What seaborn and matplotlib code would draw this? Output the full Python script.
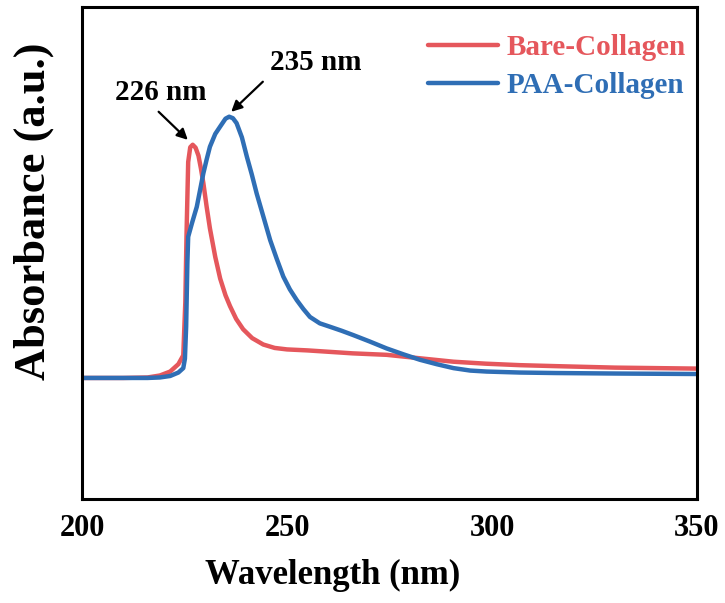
import numpy as np
import pandas as pd
import matplotlib
matplotlib.use("Agg")
import matplotlib.pyplot as plt
import seaborn as sns
from matplotlib.ticker import MultipleLocator

# Datos (absorbancia en unidades arbitrarias)
bare_wl = [200, 210, 216, 219, 221.5, 223.5, 224.7, 225.2, 225.5, 225.9, 226.4, 227.0,
           227.7, 228.4, 229.0, 229.6, 230.4, 231.2, 232.5, 233.7, 235.0, 236.1, 237.6,
           239.3, 241.5, 244.2, 247, 250, 255, 260.5, 266, 274.3, 282.4, 290.6, 298.5,
           306.8, 315.6, 330, 350]
bare_abs = [0.246, 0.246, 0.247, 0.251, 0.259, 0.274, 0.292, 0.40, 0.54, 0.685, 0.715, 0.720,
            0.714, 0.698, 0.672, 0.642, 0.594, 0.550, 0.492, 0.448, 0.414, 0.392, 0.366,
            0.345, 0.327, 0.314, 0.307, 0.304, 0.302, 0.299, 0.296, 0.293, 0.286, 0.279, 0.275,
            0.272, 0.270, 0.267, 0.265]

paa_wl = [200, 210, 216, 219, 221.5, 223.5, 224.7, 225.1, 225.4, 225.7, 225.9, 226.8, 228.0,
          229.6, 230.4, 231.2, 232.5, 233.7, 235.0, 235.9, 236.8, 237.7, 239.0, 240.2, 241.4,
          242.6, 244.2, 245.9, 247.5, 249.1, 250.7, 252.4, 254.0, 255.6, 258.0, 260.5, 263.3,
          266.2, 270.2, 274.3, 278.4, 282.4, 286.5, 290.6, 294.7, 298.7, 306.8, 315.5, 330, 350]
paa_abs = [0.246, 0.246, 0.246, 0.247, 0.250, 0.257, 0.266, 0.285, 0.35, 0.48, 0.533, 0.56, 0.594,
           0.662, 0.69, 0.716, 0.742, 0.757, 0.773, 0.777, 0.774, 0.764, 0.735, 0.696, 0.66,
           0.621, 0.575, 0.526, 0.488, 0.452, 0.426, 0.404, 0.386, 0.370, 0.357, 0.350, 0.342,
           0.333, 0.320, 0.306, 0.294, 0.283, 0.274, 0.266, 0.261, 0.259, 0.257, 0.256, 0.255, 0.254]

series_names = ["Bare-Collagen", "PAA-Collagen"]
series_colors = ["#E5575C", "#2F6EB5"]
x_ticks = [200, 250, 300, 350]

df = pd.concat([
    pd.DataFrame({"wl": bare_wl, "abs": bare_abs, "sample": series_names[0]}),
    pd.DataFrame({"wl": paa_wl, "abs": paa_abs, "sample": series_names[1]}),
])

sns.set_style("white")
plt.rcParams["font.family"] = ["Liberation Serif", "DejaVu Serif"]
plt.rcParams["font.weight"] = "bold"
plt.rcParams["text.color"] = "black"
plt.rcParams["axes.labelcolor"] = "black"
plt.rcParams["xtick.color"] = "black"

fig = plt.figure(figsize=(7.25, 6.03), dpi=100)
ax = fig.add_axes([0.1131, 0.1725, 0.8483, 0.8159])

sns.lineplot(data=df, x="wl", y="abs", hue="sample", palette=series_colors,
             linewidth=3.2, ax=ax, legend=True)

ax.set_xlim(200, 350)
ax.set_ylim(0, 1)
ax.set_xticks(x_ticks)
ax.xaxis.set_minor_locator(MultipleLocator(25))
ax.set_yticks([])
ax.tick_params(axis="x", which="major", direction="in", length=7, width=2,
               labelsize=22, pad=11, colors="black")
ax.tick_params(axis="x", which="minor", direction="in", length=3.5, width=2)
for lab in ax.get_xticklabels():
    lab.set_fontweight("bold")
for sp in ax.spines.values():
    sp.set_linewidth(2.2)
    sp.set_color("black")

ax.set_xlabel("Wavelength (nm)", fontsize=25, fontweight="bold", color="black")
ax.xaxis.set_label_coords(0.407, -0.122)
ax.set_ylabel("Absorbance (a.u.)", fontsize=32, fontweight="bold", color="black")
ax.yaxis.set_label_coords(-0.045, 0.584)

# Flechas y etiquetas de los picos
arrow = dict(arrowstyle="-|>", color="black", lw=1.6, mutation_scale=16)
ax.annotate("", xy=(226.3, 0.726), xytext=(218.2, 0.791), arrowprops=arrow)
ax.annotate("", xy=(235.9, 0.783), xytext=(244.6, 0.852), arrowprops=arrow)
ax.text(219.3, 0.826, "226 nm", fontsize=21, fontweight="bold", ha="center", va="center")
ax.text(257.0, 0.887, "235 nm", fontsize=21, fontweight="bold", ha="center", va="center")

leg = ax.legend(loc="upper right", bbox_to_anchor=(0.982, 0.945), frameon=False,
                handlelength=2.4, handletextpad=0.3, labelspacing=0.38,
                borderpad=0, borderaxespad=0, labelcolor="linecolor",
                prop={"weight": "bold", "size": 21})
for line in leg.get_lines():
    line.set_linewidth(3.2)

fig.savefig("out.png", dpi=100)
